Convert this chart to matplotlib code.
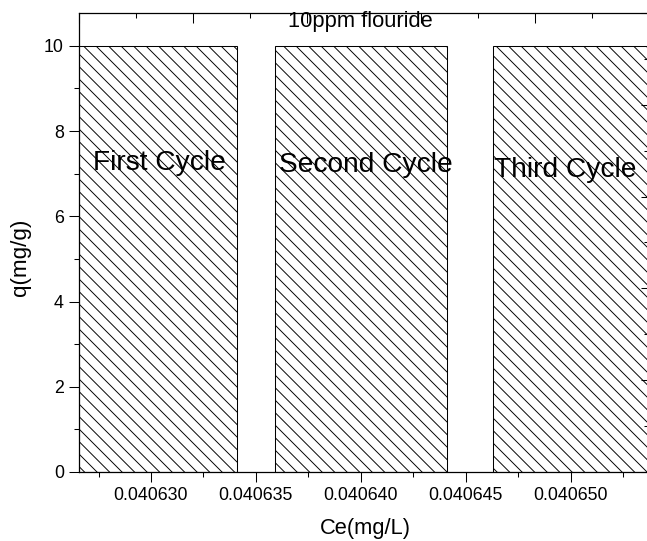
import matplotlib
matplotlib.use("Agg")
import matplotlib.pyplot as plt
from matplotlib.ticker import MultipleLocator, FormatStrFormatter

# data
ce = [0.04063, 0.04064, 0.0406504]
q = [10, 10, 10]
cycles = ["First Cycle", "Second Cycle", "Third Cycle"]
label_x = [0.04063038, 0.04064023, 0.04064975]
label_y = [7.25, 7.2, 7.09]
bar_width = 8.2e-6

plt.rcParams['font.family'] = ['Liberation Sans', 'DejaVu Sans']
plt.rcParams['hatch.linewidth'] = 0.9

DPI = 75
fig = plt.figure(figsize=(647 / DPI, 541 / DPI), dpi=DPI)
ax = fig.add_axes([79 / 647, 1 - 472 / 541, 570 / 647, 459 / 541])

ax.bar(ce, q, width=bar_width, color='white', edgecolor='black',
       linewidth=1.0, hatch='\\\\', align='center')

for x, y, name in zip(label_x, label_y, cycles):
    ax.text(x, y, name, ha='center', va='center', fontsize=27)

ax.text(0.04064, 10.56, "10ppm flouride", ha='center', va='center', fontsize=21)

ax.set_xlim(0.04062657, 0.04065373)
ax.set_ylim(0, 10.77)

ax.xaxis.set_major_locator(MultipleLocator(5e-6))
ax.xaxis.set_minor_locator(MultipleLocator(2.5e-6))
ax.xaxis.set_major_formatter(FormatStrFormatter('%.6f'))
ax.yaxis.set_major_locator(MultipleLocator(2))
ax.yaxis.set_minor_locator(MultipleLocator(1))
ax.yaxis.set_major_formatter(FormatStrFormatter('%d'))

ax.tick_params(which='major', direction='out', length=9.5, width=1, labelsize=17, pad=5)
ax.tick_params(which='minor', direction='out', length=5, width=1)
ax.tick_params(top=False, right=False)

ax.set_xlabel("Ce(mg/L)", fontsize=21)
ax.set_ylabel("q(mg/g)", fontsize=21.5)
ax.xaxis.set_label_coords(0.502, -0.1)
ax.yaxis.set_label_coords(-0.084, 0.468)

for s in ax.spines.values():
    s.set_linewidth(1.2)

# Origin-style opposite axes: inward ticks, no labels
top = ax.twiny()
top.set_xlim(0, 5)
top.xaxis.set_major_locator(MultipleLocator(1))
top.xaxis.set_minor_locator(MultipleLocator(0.5))
top.tick_params(axis='x', which='major', direction='in', length=9.5, width=1, labeltop=False)
top.tick_params(axis='x', which='minor', direction='in', length=5, width=1)

right = ax.twinx()
right.set_ylim(0, 5)
right.yaxis.set_major_locator(MultipleLocator(1))
right.yaxis.set_minor_locator(MultipleLocator(0.5))
right.tick_params(axis='y', which='major', direction='in', length=8, width=1, labelright=False)
right.tick_params(axis='y', which='minor', direction='in', length=5, width=1)

fig.savefig("out.png", dpi=DPI)
